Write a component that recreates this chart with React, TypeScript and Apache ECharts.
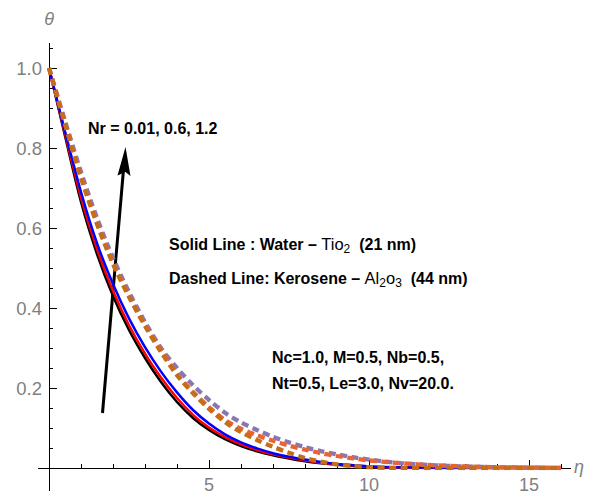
import React, { useEffect, useRef } from 'react';
import * as echarts from 'echarts';

// η grid used for every curve
const etaValues = [0, 0.5, 1, 1.5, 2, 2.5, 3, 3.5, 4, 4.5, 5, 5.5, 6, 6.5, 7, 7.5, 8, 8.5, 9, 9.5, 10, 11, 12, 13, 14, 15, 16];

// Solid lines: Water – TiO2, Nr = 0.01, 0.6, 1.2
const waterNr001 = [1.0, 0.83, 0.665, 0.535, 0.43, 0.345, 0.275, 0.215, 0.165, 0.125, 0.095, 0.072, 0.055, 0.042, 0.032, 0.024, 0.017, 0.012, 0.008, 0.005, 0.003, 0.001, 0, 0, 0, 0, 0];
const waterNr06 = [1.0, 0.836, 0.676, 0.547, 0.443, 0.357, 0.286, 0.226, 0.175, 0.133, 0.101, 0.077, 0.059, 0.045, 0.034, 0.026, 0.019, 0.013, 0.009, 0.006, 0.003, 0.001, 0, 0, 0, 0, 0];
const waterNr12 = [1.0, 0.842, 0.69, 0.562, 0.46, 0.374, 0.302, 0.241, 0.189, 0.145, 0.111, 0.084, 0.064, 0.049, 0.037, 0.028, 0.021, 0.015, 0.01, 0.007, 0.004, 0.002, 0.001, 0, 0, 0, 0];

// Dashed lines: Kerosene – Al2O3, Nr = 0.01, 0.6, 1.2
const keroNr001 = [1.0, 0.86, 0.725, 0.61, 0.51, 0.428, 0.355, 0.29, 0.232, 0.187, 0.148, 0.115, 0.09, 0.07, 0.053, 0.038, 0.025, 0.016, 0.009, 0.005, 0.002, 0, 0, 0, 0, 0, 0];
const keroNr06 = [1.0, 0.862, 0.728, 0.613, 0.513, 0.43, 0.358, 0.295, 0.235, 0.19, 0.152, 0.12, 0.098, 0.082, 0.068, 0.056, 0.046, 0.037, 0.03, 0.024, 0.019, 0.012, 0.007, 0.004, 0.002, 0.001, 0];
const keroNr12 = [1.0, 0.868, 0.74, 0.625, 0.525, 0.44, 0.365, 0.3, 0.25, 0.207, 0.17, 0.138, 0.114, 0.095, 0.078, 0.064, 0.052, 0.042, 0.034, 0.027, 0.021, 0.012, 0.007, 0.004, 0.002, 0.001, 0];

const FONT = '"Liberation Sans", Arial, Helvetica, sans-serif';

export default function App() {
  const ref = useRef<HTMLDivElement>(null);

  useEffect(() => {
    document.body.style.margin = '0';
    const chart = echarts.init(ref.current!, null, { renderer: 'svg' });

    const pairs = (arr: number[]) => etaValues.map((e, i) => [e, arr[i]]);

    const solid = (name: string, data: number[], color: string) => ({
      name,
      type: 'line',
      xAxisIndex: 0,
      yAxisIndex: 0,
      data: pairs(data),
      showSymbol: false,
      symbol: 'none',
      smooth: 0.3,
      lineStyle: { color, width: 2.5 },
      silent: true,
    });
    const dashed = (name: string, data: number[], color: string) => ({
      name,
      type: 'line',
      xAxisIndex: 0,
      yAxisIndex: 0,
      data: pairs(data),
      showSymbol: false,
      symbol: 'none',
      smooth: 0.3,
      lineStyle: { color, width: 4.3, type: [7, 4.5], cap: 'butt' },
      silent: true,
    });

    // layout: η=0 at x=49, 32px per unit; θ=0 at y=468, 400px per unit
    const L = 49;
    const X0 = 468;
    const boldText = (x: number, y: number, text: string) => ({
      type: 'text',
      x,
      y,
      silent: true,
      style: {
        text,
        fill: '#000',
        font: `bold 16px ${FONT}`,
        textAlign: 'left',
        textVerticalAlign: 'middle',
      },
    });

    const rich = {
      b: { fontFamily: FONT, fontWeight: 'bold', fontSize: 16, lineHeight: 16, verticalAlign: 'middle', color: '#000' },
      r: { fontFamily: FONT, fontWeight: 'normal', fontSize: 16.5, lineHeight: 16, verticalAlign: 'middle', color: '#000' },
      s: { fontFamily: FONT, fontWeight: 'normal', fontSize: 12, lineHeight: 12, padding: [9, 0, 0, 0], verticalAlign: 'middle', color: '#000' },
    };

    const option = {
      animation: false,
      backgroundColor: '#ffffff',
      grid: [
        { left: L, top: 48, width: 512, height: 420, containLabel: false, outerBoundsMode: 'none' },
        { left: L, top: 68, width: 480, height: 400, containLabel: false, outerBoundsMode: 'none' },
      ],
      xAxis: [
        {
          type: 'value', gridIndex: 0, min: 0, max: 16, interval: 1,
          axisLine: { show: true, onZero: true, lineStyle: { color: '#000', width: 1 } },
          axisTick: { show: true, inside: true, length: 4, lineStyle: { color: '#000', width: 1 } },
          axisLabel: { show: false },
          splitLine: { show: false },
        },
        {
          type: 'value', gridIndex: 1, min: 0, max: 15, interval: 5,
          axisLine: { show: false, onZero: true },
          axisTick: { show: true, inside: true, length: 8, lineStyle: { color: '#000', width: 1 } },
          axisLabel: {
            show: true, margin: 8, color: '#7f7f7f', fontSize: 18, lineHeight: 18, fontFamily: FONT,
            formatter: (v: number) => (v === 0 ? '' : String(v)),
          },
          splitLine: { show: false },
        },
      ],
      yAxis: [
        {
          type: 'value', gridIndex: 0, min: 0, max: 1.05, interval: 0.05,
          axisLine: { show: true, onZero: true, lineStyle: { color: '#000', width: 1 } },
          axisTick: { show: true, inside: true, length: 4, lineStyle: { color: '#000', width: 1 } },
          axisLabel: { show: false },
          splitLine: { show: false },
        },
        {
          type: 'value', gridIndex: 1, min: 0, max: 1, interval: 0.2,
          axisLine: { show: false, onZero: true },
          axisTick: { show: true, inside: true, length: 8, lineStyle: { color: '#000', width: 1 } },
          axisLabel: {
            show: true, margin: 7, color: '#7f7f7f', fontSize: 18.5, fontFamily: FONT,
            formatter: (v: number) => (v === 0 ? '' : v.toFixed(1)),
          },
          splitLine: { show: false },
        },
      ],
      series: [
        solid('Water Nr=0.01', waterNr001, '#000000'),
        solid('Water Nr=0.6', waterNr06, '#ff0000'),
        solid('Water Nr=1.2', waterNr12, '#0000ff'),
        dashed('Kerosene Nr=1.2', keroNr12, '#8778B3'),
        dashed('Kerosene Nr=0.6', keroNr06, '#EB6235'),
        dashed('Kerosene Nr=0.01', keroNr001, '#C56E1A'),
      ],
      graphic: [
        // axis extensions
        { type: 'line', silent: true, shape: { x1: 38, y1: X0 + 0.5, x2: L, y2: X0 + 0.5 }, style: { stroke: '#000', lineWidth: 1 } },
        { type: 'line', silent: true, shape: { x1: 561, y1: X0 + 0.5, x2: 571, y2: X0 + 0.5 }, style: { stroke: '#000', lineWidth: 1 } },
        { type: 'line', silent: true, shape: { x1: L + 0.5, y1: X0, x2: L + 0.5, y2: 491 }, style: { stroke: '#000', lineWidth: 1 } },
        { type: 'line', silent: true, shape: { x1: L + 0.5, y1: 43, x2: L + 0.5, y2: 48 }, style: { stroke: '#000', lineWidth: 1 } },
        // axis names
        { type: 'text', x: 49, y: 19, silent: true, style: { text: 'θ', fill: '#7f7f7f', font: `italic 18px ${FONT}`, textAlign: 'center', textVerticalAlign: 'middle' } },
        { type: 'text', x: 579, y: 467, silent: true, style: { text: 'η', fill: '#7f7f7f', font: `italic 18px ${FONT}`, textAlign: 'center', textVerticalAlign: 'middle' } },
        // arrow
        { type: 'line', silent: true, shape: { x1: 102.5, y1: 413, x2: 123.3, y2: 172 }, style: { stroke: '#000', lineWidth: 3 } },
        { type: 'polygon', silent: true, shape: { points: [[125.5, 147], [130.5, 176], [125.5, 172], [117.5, 175.5]] }, style: { fill: '#000' } },
        // annotations
        boldText(88, 128, 'Nr = 0.01, 0.6, 1.2'),
        {
          type: 'text', x: 169, y: 244, silent: true,
          style: { text: '{b|Solid Line : Water – }{r|Tio}{s|2}{b|  (21 nm)}', rich, textAlign: 'left', textVerticalAlign: 'middle' },
        },
        {
          type: 'text', x: 169, y: 278, silent: true,
          style: { text: '{b|Dashed Line: Kerosene – }{r|Al}{s|2}{r|o}{s|3}{b|  (44 nm)}', rich, textAlign: 'left', textVerticalAlign: 'middle' },
        },
        boldText(272, 357, 'Nc=1.0, M=0.5, Nb=0.5,'),
        boldText(272, 383, 'Nt=0.5, Le=3.0, Nv=20.0.'),
      ],
    };

    chart.setOption(option as any);
    return () => chart.dispose();
  }, []);

  return <div ref={ref} style={{ width: 597, height: 496 }} />;
}
